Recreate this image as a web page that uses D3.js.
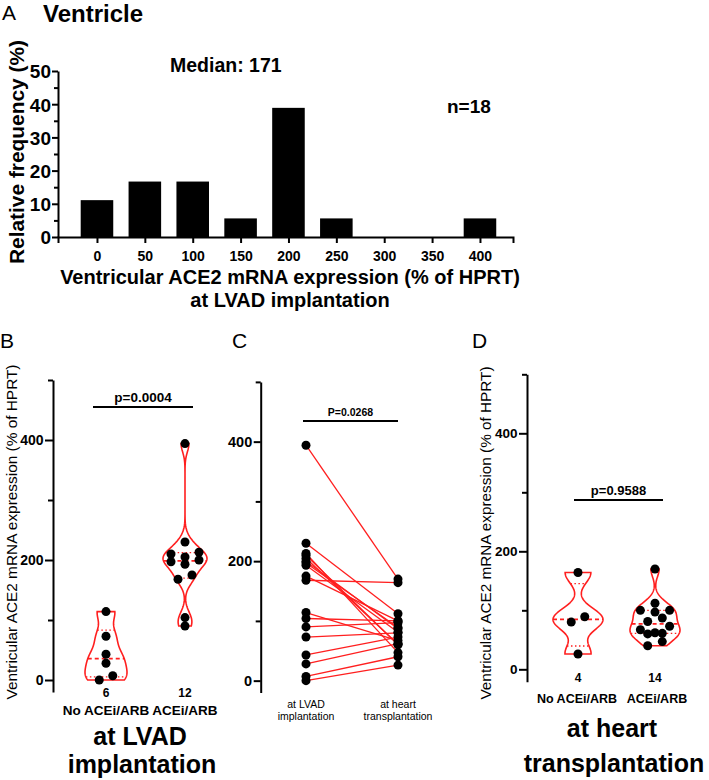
<!DOCTYPE html>
<html><head><meta charset="utf-8">
<script src="https://cdn.jsdelivr.net/npm/d3@7"></script>
<style>
body{margin:0;background:#fff}
svg{display:block}
text{font-family:"Liberation Sans",Arial,Helvetica,sans-serif;fill:#000}
</style>
</head><body>
<svg id="chart" width="709" height="780"></svg>
<script>
// ---------------- DATA ----------------
const histBins = [0, 50, 100, 150, 200, 250, 300, 350, 400];
const histFreq = [11.1, 16.7, 16.7, 5.6, 38.9, 5.6, 0, 0, 5.6];
const histYTicks = [0, 5, 10, 15, 20, 25, 30, 35, 40, 45, 50];
const histYLabels = [0, 10, 20, 30, 40, 50];

const lvadNoAce = [114, 73, 43, 28, 7, 0];
const lvadAce = [394, 230, 213, 210, 205, 200, 197, 193, 175, 168, 104, 90];

const pairLvad = [394, 168, 230, 0, 7, 28, 43, 73, 90, 104, 114, 213, 210, 205, 200, 197, 193, 175];
const pairHtx  = [170, 164, 112, 26, 40, 62, 73, 80, 97, 100, 67, 47, 60, 61, 87, 89, 81, 100];

const htxNoAce = [164, 89, 80, 26];
const htxAce = [170, 112, 100, 100, 97, 87, 81, 73, 67, 62, 61, 60, 47, 40];

const groupLabels = ["No ACEi/ARB", "ACEi/ARB"];
const pairLabels = [["at LVAD", "implantation"], ["at heart", "transplantation"]];
const exprTicks = [0, 100, 200, 300, 400, 500];
const exprLabels = [0, 200, 400];
const pValues = ["p=0.0004", "P=0.0268", "p=0.9588"];

// ---------------- HELPERS ----------------
const svg = d3.select("#chart");
const RED = "#ff1f1f";

function txt(x, y, s, size, weight, anchor) {
  return svg.append("text").attr("x", x).attr("y", y).text(s)
    .style("font-size", size + "px").style("font-weight", weight || "normal")
    .attr("text-anchor", anchor || "start");
}
function rtxt(x, y, s, size, weight, len) {
  const t = svg.append("text").attr("transform", `translate(${x},${y}) rotate(-90)`)
    .attr("text-anchor", "middle").text(s)
    .style("font-size", size + "px").style("font-weight", weight || "normal");
  if (len) t.attr("textLength", len).attr("lengthAdjust", "spacingAndGlyphs");
  return t;
}
function yAxis(scale, x, vals, labels, majorLen, minorLen, fontSize, gap) {
  const g = svg.append("g").attr("transform", `translate(${x},0)`)
    .call(d3.axisLeft(scale).tickValues(vals).tickSizeOuter(0)
      .tickFormat(d => labels.includes(d) ? d : ""));
  g.attr("font-family", null).attr("font-size", null);
  g.select(".domain").attr("stroke", "#000").attr("stroke-width", 2);
  g.selectAll(".tick line").attr("stroke", "#000").attr("stroke-width", 2)
    .attr("x2", d => labels.includes(d) ? -majorLen : -minorLen);
  g.selectAll(".tick text").attr("x", -(majorLen + gap))
    .style("font-size", fontSize + "px").style("font-weight", "bold");
  return g;
}
function quant(sorted, p) {
  const n = sorted.length, r = (n + 1) * p;
  if (r <= 1) return sorted[0];
  if (r >= n) return sorted[n - 1];
  const i = Math.floor(r);
  return sorted[i - 1] + (r - i) * (sorted[i] - sorted[i - 1]);
}
function violin(values, cx, yS, maxHalf, bw) {
  const s = values.slice().sort((a, b) => a - b);
  const lo = s[0], hi = s[s.length - 1];
  const kde = v => d3.sum(values, x => Math.exp(-0.5 * ((v - x) / bw) ** 2));
  const grid = d3.range(161).map(i => lo + (hi - lo) * i / 160);
  const mx = d3.max(grid, kde);
  const w = v => kde(v) / mx * maxHalf;
  const area = d3.area().x0(v => cx - w(v)).x1(v => cx + w(v)).y(v => yS(v));
  svg.append("path").attr("d", area(grid)).attr("fill", "none")
    .attr("stroke", RED).attr("stroke-width", 1.6);
  [[0.25, "1.5,2.5", 1.3], [0.5, "4,3", 1.8], [0.75, "1.5,2.5", 1.3]].forEach(([p, dash, sw]) => {
    const v = quant(s, p), h = w(v);
    svg.append("line").attr("x1", cx - h).attr("x2", cx + h)
      .attr("y1", yS(v)).attr("y2", yS(v))
      .attr("stroke", RED).attr("stroke-width", sw).attr("stroke-dasharray", dash);
  });
}
// row-based scatter (points close in y share a row and spread sideways)
function swarm(values, cx, yS, rowH, sp, r) {
  const s = values.slice().sort((a, b) => b - a);
  const rows = [];
  s.forEach(v => {
    const y = yS(v);
    const last = rows[rows.length - 1];
    if (last && y - last.y0 < rowH) last.pts.push(v);
    else rows.push({ y0: y, pts: [v] });
  });
  const placed = [];
  rows.forEach(row => {
    const n = row.pts.length;
    const offs = d3.range(n).map(i => i - (n - 1) / 2)
      .sort((a, b) => Math.abs(b) - Math.abs(a) || b - a);
    row.pts.forEach((v, i) => placed.push({ v, dx: offs[i] * sp }));
  });
  svg.append("g").selectAll("circle").data(placed).enter().append("circle")
    .attr("cx", d => cx + d.dx).attr("cy", d => yS(d.v)).attr("r", r).attr("fill", "#000");
}
function bracket(x1, x2, y, label, size) {
  svg.append("line").attr("x1", x1).attr("x2", x2).attr("y1", y).attr("y2", y)
    .attr("stroke", "#000").attr("stroke-width", 2);
  txt((x1 + x2) / 2, y - 5.5, label, size, "bold", "middle");
}

// ---------------- PANEL A ----------------
txt(2, 20, "A", 21, "normal");
txt(43, 22, "Ventricle", 24, "bold");
const xA = d3.scaleLinear().domain([-40.7, 434.5]).range([58, 513]);
const yA = d3.scaleLinear().domain([0, 50]).range([237, 71]);
const barW = xA(34) - xA(0);
svg.append("g").selectAll("rect").data(histBins).enter().append("rect")
  .attr("x", d => xA(d) - barW / 2).attr("width", barW)
  .attr("y", (d, i) => yA(histFreq[i])).attr("height", (d, i) => yA(0) - yA(histFreq[i]))
  .attr("fill", "#000");
const gxA = svg.append("g").attr("transform", `translate(0,${yA(0)})`)
  .call(d3.axisBottom(xA).tickValues(histBins).tickSizeOuter(0).tickSize(6));
gxA.attr("font-family", null).attr("font-size", null);
gxA.select(".domain").attr("stroke", "#000").attr("stroke-width", 2);
gxA.selectAll(".tick line").attr("stroke", "#000").attr("stroke-width", 2);
gxA.selectAll(".tick text").attr("y", 14).attr("dy", "0.71em")
  .style("font-size", "14px").style("font-weight", "bold");
const gyA = yAxis(yA, 58, histYTicks, histYLabels, 6, 4, 19, 1);
gyA.selectAll(".tick text").attr("dy", "0.36em");
txt(170, 72, "Median: 171", 19.5, "bold");
txt(447, 113, "n=18", 19, "bold");
rtxt(24, 152, "Relative frequency (%)", 21, "bold", 224);
txt(290, 284, "Ventricular ACE2 mRNA expression (% of HPRT)", 20, "bold", "middle");
txt(290, 306.5, "at LVAD implantation", 20, "bold", "middle");

// ---------------- PANEL B ----------------
txt(0, 348, "B", 21, "normal");
const yB = d3.scaleLinear().domain([-20, 500]).range([692, 380]);
yAxis(yB, 53, exprTicks, exprLabels, 8, 5, 14, 1.5);
rtxt(17, 532, "Ventricular ACE2 mRNA expression (% of HPRT)", 15, "normal", 335);
const cxB = [106, 185];
violin(lvadNoAce, cxB[0], yB, 21, 16);
violin(lvadAce, cxB[1], yB, 22, 14);
swarm(lvadNoAce, cxB[0], yB, 7, 13.5, 4.5);
swarm(lvadAce, cxB[1], yB, 7, 14, 4.5);
bracket(93, 193, 407, pValues[0], 13.5);
txt(cxB[0], 697, String(lvadNoAce.length), 12, "bold", "middle");
txt(cxB[1], 697, String(lvadAce.length), 12, "bold", "middle");
txt(cxB[0], 715, groupLabels[0], 13.5, "bold", "middle");
txt(cxB[1], 715, groupLabels[1], 13.5, "bold", "middle");
txt(140, 745, "at LVAD", 25, "bold", "middle");
txt(142, 773, "implantation", 25, "bold", "middle");

// ---------------- PANEL C ----------------
txt(232, 348, "C", 21, "normal");
const yC = d3.scaleLinear().domain([-20, 500]).range([692.6, 381.9]);
yAxis(yC, 260.7, exprTicks, exprLabels, 7, 5, 14.5, 1.5);
const cxC = [306, 398];
svg.append("g").selectAll("line").data(pairLvad).enter().append("line")
  .attr("x1", cxC[0]).attr("x2", cxC[1])
  .attr("y1", d => yC(d)).attr("y2", (d, i) => yC(pairHtx[i]))
  .attr("stroke", RED).attr("stroke-width", 1.3);
[pairLvad, pairHtx].forEach((arr, k) => {
  svg.append("g").selectAll("circle").data(arr).enter().append("circle")
    .attr("cx", cxC[k]).attr("cy", d => yC(d)).attr("r", 4.5).attr("fill", "#000");
});
bracket(303, 398, 421, pValues[1], 10.5);
pairLabels.forEach((lines, k) => {
  txt(cxC[k], 708, lines[0], 10.5, "normal", "middle");
  txt(cxC[k], 720, lines[1], 10.5, "normal", "middle");
});

// ---------------- PANEL D ----------------
txt(472, 348, "D", 21, "normal");
const yD = d3.scaleLinear().domain([-21, 500]).range([681.7, 374.3]);
yAxis(yD, 527, exprTicks, exprLabels, 8, 5, 13.5, 1.5);
rtxt(491, 533, "Ventricular ACE2 mRNA expression (% of HPRT)", 15, "normal", 333);
const cxD = [578, 655];
violin(htxNoAce, cxD[0], yD, 25, 18);
violin(htxAce, cxD[1], yD, 25, 13);
swarm(htxNoAce, cxD[0], yD, 7, 13.5, 4.5);
swarm(htxAce, cxD[1], yD, 7, 14.6, 4.5);
bracket(574, 663, 500, pValues[2], 13);
txt(cxD[0], 682, String(htxNoAce.length), 12, "bold", "middle");
txt(cxD[1], 682, String(htxAce.length), 12, "bold", "middle");
txt(577, 703, groupLabels[0], 12.5, "bold", "middle");
txt(657, 703, groupLabels[1], 12.5, "bold", "middle");
txt(612, 737, "at heart", 25, "bold", "middle");
txt(614, 772, "transplantation", 25, "bold", "middle");
</script>
</body></html>
